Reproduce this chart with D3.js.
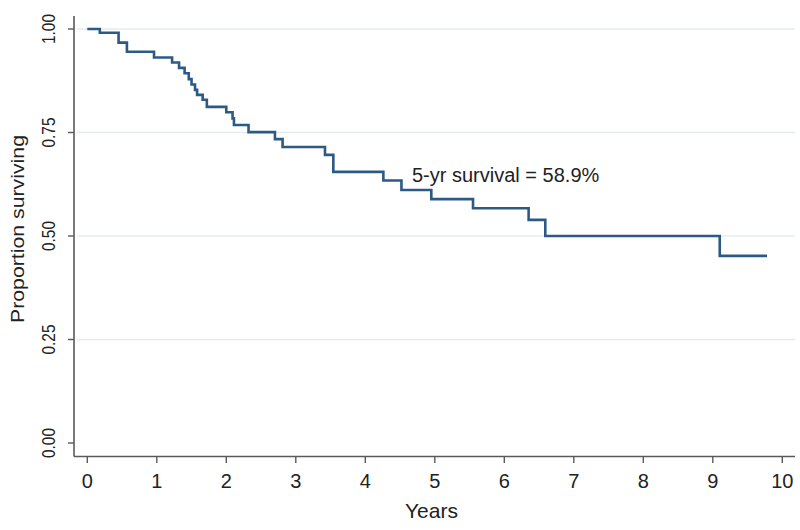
<!DOCTYPE html>
<html>
<head>
<meta charset="utf-8">
<script src="https://cdn.jsdelivr.net/npm/d3@7"></script>
<style>
  html, body { margin: 0; padding: 0; background: #ffffff; }
  svg { display: block; font-family: "Liberation Sans", Arial, sans-serif; }
</style>
</head>
<body>
<svg id="chart" width="800" height="530"></svg>
<script>
// Kaplan-Meier step data (years, proportion surviving)
const times    = [0, 0.18, 0.45, 0.57, 0.96, 1.22, 1.32, 1.40, 1.46, 1.50, 1.55, 1.58, 1.66, 1.72, 2.00, 2.09, 2.11, 2.32, 2.70, 2.81, 3.42, 3.54, 4.26, 4.52, 4.95, 5.55, 6.35, 6.59, 9.10, 9.78];
const survival = [1.0, 0.991, 0.967, 0.945, 0.931, 0.919, 0.906, 0.893, 0.879, 0.866, 0.853, 0.841, 0.829, 0.812, 0.799, 0.784, 0.768, 0.751, 0.734, 0.715, 0.696, 0.655, 0.634, 0.611, 0.589, 0.567, 0.539, 0.500, 0.452, 0.452];
const xTicks = [0, 1, 2, 3, 4, 5, 6, 7, 8, 9, 10];
const yTicks = [0, 0.25, 0.5, 0.75, 1.0];
const gridValues = [0.25, 0.5, 0.75, 1.0];
const annotation = "5-yr survival = 58.9%";
const xTitle = "Years";
const yTitle = "Proportion surviving";

const svg = d3.select("#chart");
const x = d3.scaleLinear().domain([0, 10]).range([87.3, 782.3]);
const y = d3.scaleLinear().domain([0, 1]).range([443, 29]);

const axisX0 = 74, axisX1 = 795, axisYTop = 16, axisYBot = 456.5;

// gridlines
svg.append("g").selectAll("line").data(gridValues).join("line")
  .attr("x1", 77).attr("x2", axisX1)
  .attr("y1", d => y(d)).attr("y2", d => y(d))
  .attr("stroke", "#e2ecef").attr("stroke-width", 1.6);

// y axis
const yAxis = svg.append("g");
yAxis.append("line").attr("x1", axisX0).attr("x2", axisX0)
  .attr("y1", axisYTop).attr("y2", axisYBot)
  .attr("stroke", "#5a5a5a").attr("stroke-width", 1.6);
yAxis.selectAll("line.tick").data(yTicks).join("line").attr("class", "tick")
  .attr("x1", 68).attr("x2", axisX0)
  .attr("y1", d => y(d)).attr("y2", d => y(d))
  .attr("stroke", "#5a5a5a").attr("stroke-width", 1.4);
yAxis.selectAll("text").data(yTicks).join("text")
  .attr("transform", d => `translate(55,${y(d)}) rotate(-90)`)
  .attr("text-anchor", "middle")
  .attr("font-size", 18)
  .attr("textLength", 30).attr("lengthAdjust", "spacingAndGlyphs")
  .attr("fill", "#222")
  .text(d => d3.format(".2f")(d));

// x axis
const xAxis = svg.append("g");
xAxis.append("line").attr("x1", axisX0).attr("x2", axisX1)
  .attr("y1", axisYBot).attr("y2", axisYBot)
  .attr("stroke", "#5a5a5a").attr("stroke-width", 1.6);
xAxis.selectAll("line.tick").data(xTicks).join("line").attr("class", "tick")
  .attr("x1", d => x(d)).attr("x2", d => x(d))
  .attr("y1", axisYBot).attr("y2", 463)
  .attr("stroke", "#5a5a5a").attr("stroke-width", 1.4);
xAxis.selectAll("text").data(xTicks).join("text")
  .attr("x", d => x(d)).attr("y", 488)
  .attr("text-anchor", "middle")
  .attr("font-size", 20)
  .attr("fill", "#222")
  .text(d => d);

// axis titles
svg.append("text")
  .attr("x", 431.5).attr("y", 518)
  .attr("text-anchor", "middle").attr("font-size", 21).attr("fill", "#222")
  .text(xTitle);
svg.append("text")
  .attr("transform", "translate(24,229) rotate(-90)")
  .attr("text-anchor", "middle").attr("font-size", 19)
  .attr("textLength", 188).attr("lengthAdjust", "spacingAndGlyphs")
  .attr("fill", "#222")
  .text(yTitle);

// survival curve
const pts = times.map((t, i) => [t, survival[i]]);
const line = d3.line().x(d => x(d[0])).y(d => y(d[1])).curve(d3.curveStepAfter);
svg.append("path").datum(pts)
  .attr("d", line)
  .attr("fill", "none")
  .attr("stroke", "#2d5a85")
  .attr("stroke-width", 2.6);

// annotation
svg.append("text")
  .attr("x", 412).attr("y", 181.5)
  .attr("font-size", 20).attr("fill", "#222")
  .text(annotation);
</script>
</body>
</html>
